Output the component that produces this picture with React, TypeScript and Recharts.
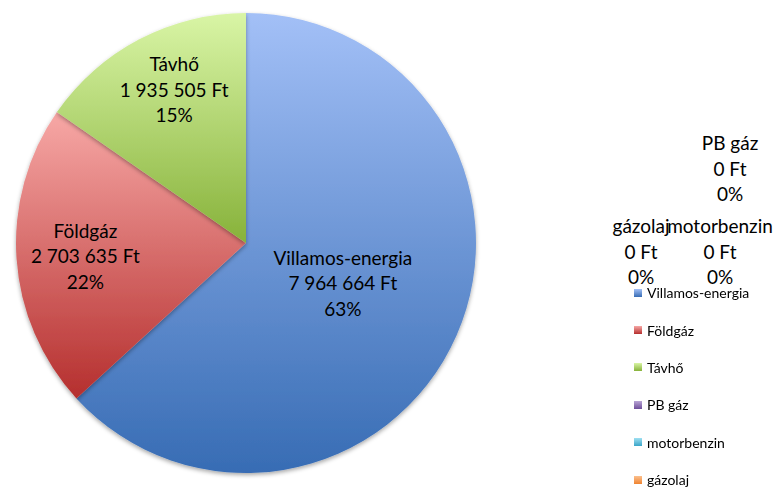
import React from 'react';
import { PieChart, Pie, Cell, Legend } from 'recharts';

const categories = ['Villamos-energia', 'Földgáz', 'Távhő', 'PB gáz', 'motorbenzin', 'gázolaj'];
const costs = [7964664, 2703635, 1935505, 0, 0, 0];
const percentLabels = ['63%', '22%', '15%', '0%', '0%', '0%'];

const data = categories.map((name, i) => ({ name, value: costs[i], pct: percentLabels[i] }));

// top / bottom gradient colours per slice
const gradients: Record<string, [string, string]> = {
    'Villamos-energia': ['#a3c0f7', '#376cb4'],
    'Földgáz': ['#f7a8a6', '#b52f2e'],
    'Távhő': ['#d9f5a6', '#87b23a'],
    'PB gáz': ['#b9a5d6', '#6e4e9a'],
    'motorbenzin': ['#9fe0f2', '#3aa5c8'],
    'gázolaj': ['#fbc08e', '#ef8330'],
};

// label placement: share of radius along the mid angle, plus a small nudge (Excel best fit look)
const labelPlace: Record<string, { r: number; dx: number; dy: number }> = {
    'Villamos-energia': { r: 0.46, dx: 0, dy: 0 },
    'Földgáz': { r: 0.7, dx: 0, dy: 5 },
    'Távhő': { r: 0.72, dx: 5, dy: -4 },
};

// zero slices get pushed outside by Excel
const zeroLabelPos: Record<string, { x: number; y: number }> = {
    'PB gáz': { x: 730, y: 142 },
    'gázolaj': { x: 641, y: 225 },
    'motorbenzin': { x: 720, y: 225 },
};

const FONT = 'Lato, "Noto Sans", sans-serif';

const fmt = (v: number) => `${String(v).replace(/\B(?=(\d{3})+(?!\d))/g, ' ')} Ft`;

const renderLabel = (props: any) => {
    const { cx, cy, midAngle, outerRadius, payload } = props;
    const name = payload.name;
    let x: number;
    let y: number;
    if (payload.value === 0) {
        const p = zeroLabelPos[name];
        if (!p) return null;
        x = p.x;
        y = p.y;
    } else {
        const RAD = Math.PI / 180;
        const pl = labelPlace[name] ?? { r: 0.6, dx: 0, dy: 0 };
        const r = outerRadius * pl.r;
        x = cx + r * Math.cos(-midAngle * RAD) + pl.dx;
        y = cy + r * Math.sin(-midAngle * RAD) - 29 + pl.dy;
    }
    return (
        <text x={x} y={y} textAnchor="middle" dominantBaseline="central" fill="#000" fontSize={19} fontFamily={FONT}>
            <tspan x={x} dy={0}>{name}</tspan>
            <tspan x={x} dy={25.5}>{fmt(payload.value)}</tspan>
            <tspan x={x} dy={25.5}>{payload.pct}</tspan>
        </text>
    );
};

const LegendContent = () => (
    <div style={{ fontFamily: FONT, fontSize: 14, color: '#000' }}>
        {categories.map((c) => (
            <div key={c} style={{ display: 'flex', alignItems: 'center', height: 37.4 }}>
                <span
                    style={{
                        display: 'inline-block',
                        width: 8,
                        height: 8,
                        marginRight: 5,
                        background: `linear-gradient(${gradients[c][0]}, ${gradients[c][1]})`,
                    }}
                />
                <span>{c}</span>
            </div>
        ))}
    </div>
);

export default function App() {
    return (
        <div style={{ position: 'fixed', left: 0, top: 0, width: 778, height: 489, background: '#fff' }}>
            <PieChart width={778} height={489} margin={{ top: 0, right: 0, bottom: 0, left: 0 }}>
                <defs>
                    {categories.map((c, i) => (
                        <linearGradient key={c} id={`grad${i}`} x1="0" y1="0" x2="0" y2="1">
                            <stop offset="0%" stopColor={gradients[c][0]} />
                            <stop offset="100%" stopColor={gradients[c][1]} />
                        </linearGradient>
                    ))}
                    <filter id="pieShadow" x="-10%" y="-10%" width="120%" height="120%">
                        <feDropShadow dx="0" dy="2" stdDeviation="2" floodColor="#000" floodOpacity="0.35" />
                    </filter>
                </defs>
                <Pie
                    data={data}
                    dataKey="value"
                    nameKey="name"
                    cx={246}
                    cy={243}
                    outerRadius={230}
                    startAngle={90}
                    endAngle={-270}
                    stroke="none"
                    labelLine={false}
                    label={renderLabel}
                    isAnimationActive={false}
                    style={{ filter: 'url(#pieShadow)' }}
                >
                    {data.map((d, i) => (
                        <Cell key={d.name} fill={`url(#grad${i})`} />
                    ))}
                </Pie>
                <Legend
                    layout="vertical"
                    content={LegendContent}
                    wrapperStyle={{ position: 'absolute', left: 634, top: 274, width: 144 }}
                />
            </PieChart>
        </div>
    );
}
